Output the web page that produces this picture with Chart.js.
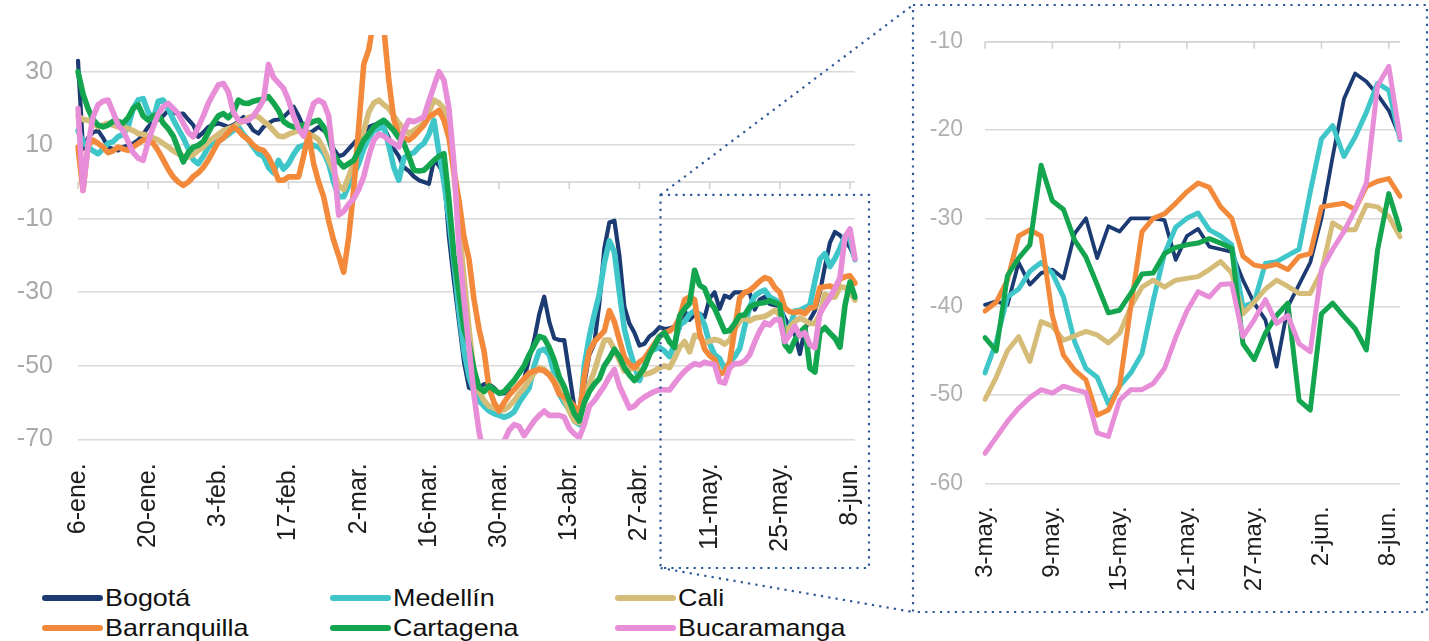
<!DOCTYPE html>
<html>
<head>
<meta charset="utf-8">
<script src="https://cdn.jsdelivr.net/npm/chart.js@4.4.1/dist/chart.umd.min.js"></script>
<style>
  body { margin: 0; background: #fff; font-family: "Liberation Sans", Arial, sans-serif; }
  #page { position: relative; width: 1429px; height: 641px; overflow: hidden; background: #fff; }
  #main-wrap { position: absolute; left: 0; top: 0; width: 880px; height: 560px; }
  #zoom-wrap { position: absolute; left: 915px; top: 10px; width: 500px; height: 600px; }
  #frames { position: absolute; left: 0; top: 0; pointer-events: none; }
  #legend { position: absolute; left: 42px; top: 586px; display: grid;
            grid-template-columns: 288px 285px 300px; row-gap: 6px; }
  .item { display: flex; align-items: center; height: 24px; }
  .swatch { width: 61px; height: 6px; border-radius: 3px; margin-right: 2px; }
  .name { display: inline-block; font-size: 24px; line-height: 24px; color: #111;
          transform: scaleX(1.12); transform-origin: left center; white-space: nowrap; }
</style>
</head>
<body>
<div id="page">
  <div id="main-wrap"><canvas id="main-chart"></canvas></div>
  <div id="zoom-wrap"><canvas id="zoom-chart"></canvas></div>
  <div id="legend"></div>
  <canvas id="frames" width="1429" height="641"></canvas>
</div>
<script>
// daily values, 6-ene. to 9-jun.
const bogota = [
  33, 9, 12, 13.5, 14, 12, 9.5, 9, 8.6, 9.5,
  10, 10.5, 11.4, 13, 15, 16.5, 17, 18, 19.5, 19,
  18.5, 18.6, 17, 15.5, 12.3, 13.5, 15, 15.5, 16, 15.5,
  15, 15.5, 16.5, 17.7, 16, 14, 13.2, 15, 16, 16.8,
  17, 17.7, 19, 20.5, 18, 15, 13.2, 14, 15, 14,
  13, 9, 7, 7.5, 9, 10.5, 12, 13.5, 15, 15.5,
  16, 15, 12, 9, 7, 4, 3, 1.5, 0.5, 0,
  -0.5, 5.9, 4.5, 2, -15, -27, -38, -49, -56, -56.5,
  -56, -55, -55, -56, -57.5, -57.5, -57, -56.5, -55, -53.5,
  -48, -43, -36, -31.2, -38, -42.5, -43, -43, -52, -61,
  -65, -55, -47, -44, -33, -18, -11, -10.5, -20, -34,
  -38.5, -41, -44.5, -44, -42, -41, -39.5, -40,
  -39.8, -39.4, -39.8, -35, -37.5, -36.2, -35.8, -36.8, -31.7, -30,
  -34.5, -30.9, -31.5, -30, -30, -30, -30.2, -34.7, -32, -31.2,
  -33.2, -33.5, -33.8, -37, -39.6, -41.5, -46.8, -40, -37.5, -35,
  -30, -23, -16.5, -13.6, -14.5, -16, -17.8, -20.8
];
const medellin = [
  14, 11, 9.5, 8.5, 7.7, 9, 10.5, 11, 12.3, 13,
  15, 20, 22.3, 22.7, 19, 17, 22, 22.3, 20, 17,
  14.5, 12, 9, 6, 5, 7, 9.5, 10.5, 11, 12,
  13, 14, 15, 13, 11.4, 9.5, 7.7, 7, 4, 2.5,
  5.9, 3.5, 5, 7.5, 9.5, 10, 10.5, 10, 9.5, 8,
  5, 0, -4, -4, -1, 2, 5, 9, 12, 14,
  14.5, 15, 10, 4, 0.5, 6.5, 7.5, 8, 9.5, 10.5,
  13, 16.8, 8, 0, -10, -22, -35, -46, -53, -57,
  -59.5, -61, -62.3, -63, -63.5, -64, -63.5, -62.5, -60, -58,
  -56, -50, -46, -45.5, -47, -52, -57.7, -60, -62, -65,
  -66, -50, -42, -36, -30.5, -22, -16, -19, -30, -40,
  -45.5, -50, -54, -50, -46, -45.5, -45, -46,
  -47.5, -44, -38.9, -38, -36, -35, -36.2, -38.9, -44, -47,
  -48, -51, -49, -47.5, -45.3, -39.3, -34, -31, -30, -29.4,
  -31.3, -32, -33, -40, -39.5, -35.1, -34.9, -34.2, -33.5, -27,
  -21, -19.5, -23, -20.8, -18, -14.7, -15.5, -21.1
];
const cali = [
  18, 17, 16.8, 16, 15, 15.5, 16, 15.5, 15, 15,
  14.5, 14, 13.2, 13, 12.5, 12, 11.4, 10.5, 9.5, 8.5,
  7.7, 7, 6.8, 7.5, 8.6, 9.5, 11, 12, 13, 14,
  14.5, 15, 16, 16.5, 17.5, 18, 17.7, 16.5, 15.5, 14,
  12.5, 12.3, 13, 13.5, 14, 13.5, 13, 12.5, 11.5, 9,
  6, 3, -1, -2, 1.5, 5, 9, 14, 19, 21.5,
  22.3, 21, 20, 18, 16, 14.5, 13.2, 14, 15, 16,
  19, 22.3, 21.5, 20, 14, 2, -12, -26, -40, -52,
  -57, -59.5, -61, -61.5, -62, -62, -61, -59.5, -57.5, -56,
  -54, -52, -50.5, -51, -52.3, -54, -56, -59, -62.3, -65,
  -65.5, -59, -55, -51.5, -47, -43, -43, -45.5, -48.5, -51.4,
  -51, -50.5, -51, -52.3, -52, -51.4, -50.5, -50,
  -50.5, -48, -45, -43.4, -46.2, -41.7, -42.2, -43.8, -43.3, -42.8,
  -43.2, -44.1, -43, -40, -37.8, -37, -37.8, -37, -36.8, -36.6,
  -35.8, -34.9, -36.2, -40.8, -39.5, -38, -37, -37.7, -38.5, -38.5,
  -36, -30.5, -31.3, -31.3, -28.5, -28.7, -29.8, -32.1
];
const barranquilla = [
  9.5, -2.3, 10, 11.4, 10.5, 9.5, 8, 8.5, 9.5, 9,
  8.6, 9.5, 10.5, 11.4, 11.4, 10.5, 8.5, 6, 3.5, 1.4,
  0, -0.9, 0, 1.5, 2.5, 4, 6, 8.5, 11, 12,
  13.5, 15, 14, 12.5, 11.5, 10, 9, 8.6, 6.8, 4,
  0.5, 0.5, 1.4, 1.4, 1.4, 7, 13.2, 5, 0, -4,
  -10.5, -15.9, -20, -24.5, -15, -2, 15, 32, 36, 44,
  45, 42, 27.7, 17, 13, 12, 11.4, 12.5, 14, 15.5,
  17.7, 18.5, 19.5, 16.8, 12, 3, -5, -15, -21, -32,
  -40, -46, -56, -60, -62.3, -60, -58, -56.5, -55, -53.5,
  -52, -51.4, -51, -51.4, -52.5, -54.5, -57.7, -58.5, -59.5, -61,
  -63.2, -53, -46, -43.5, -42, -40.5, -35, -38, -43, -47.7,
  -49.5, -50.5, -49, -48, -46, -44, -42, -41,
  -40.5, -39.5, -37, -32, -31.3, -32, -41, -45.5, -47.2, -48.3,
  -52.3, -51.7, -49, -40, -31.5, -30, -29.5, -28.3, -27, -26,
  -26.5, -28.7, -30, -34.3, -35.3, -35.5, -35.2, -35.8, -34.3, -34,
  -28.7, -28.5, -28.3, -29, -26.4, -25.8, -25.5, -27.5
];
const cartagena = [
  30, 24, 20, 17, 15.5, 15, 15.5, 16.5, 16.5, 16,
  17.5, 20, 21, 18, 16.8, 18, 18.5, 16, 14.5, 12.5,
  9, 5.5, 8, 9.5, 10, 11, 13.5, 16, 18, 18.6,
  17.5, 19, 22.3, 21.5, 21.4, 22, 22.3, 22.5, 23.2, 21.5,
  19.5, 16.5, 15.5, 15, 15.2, 15.5, 15.9, 16.5, 16.8, 15,
  12, 7.5, 5.5, 4.1, 5, 5.9, 8.5, 11.4, 13, 15,
  16, 16.8, 15.5, 14, 12, 10.5, 7, 3.2, 3, 3.2,
  4.5, 5.9, 7, 7.7, -5, -20, -30, -40, -44, -51,
  -56, -57, -55.5, -56.5, -57.5, -57, -55.5, -54, -52, -50,
  -47, -44.5, -42, -42.5, -45, -48.5, -53, -55.7, -59.5, -63,
  -65, -60, -57, -55, -53.5, -50, -48, -45.5, -47.5, -50.5,
  -52.5, -54, -52.5, -50.5, -47, -44.5, -42, -41,
  -43.5, -45, -36.5, -34.5, -33, -24, -28, -29, -32.5, -34.4,
  -37.5, -40.7, -40.4, -38.5, -36.3, -36.2, -34, -33.3, -33, -32.8,
  -32.3, -32.8, -33.4, -44.2, -46, -43, -41, -39.6, -50.6, -51.7,
  -40.8, -39.6, -41.1, -42.5, -44.9, -33.6, -27.2, -31.3
];
const bucaramanga = [
  20, -2.3, 10, 17.7, 21, 22, 22.3, 19, 15.5, 14,
  11, 8, 6.5, 5.9, 11, 15, 18.5, 20.5, 21.4, 20,
  18.6, 16, 13.5, 12.3, 15, 18, 21.4, 24, 26.4, 26.8,
  24.5, 19, 16.8, 16.5, 16.8, 18, 20, 22.3, 32, 28.5,
  27, 25.5, 22.3, 18, 14.5, 12.5, 17, 21.4, 22.3, 21.5,
  18, 6, -9, -8, -6, -4.5, -2, 1.5, 7, 11.4,
  13, 12.5, 11.4, 10.5, 9.5, 14, 16.8, 16.4, 17, 17.7,
  22, 26, 30, 27.7, 20, 5, -18, -32, -45, -58,
  -68, -74, -75, -73, -72, -70.5, -67.5, -66, -66.5, -69,
  -67, -65, -63.5, -62.3, -63.5, -63.5, -63.5, -64, -67, -68.5,
  -69.5, -66, -61, -59.5, -57.5, -55.5, -53, -51, -55.5, -58.5,
  -61.5, -61, -59.5, -58.5, -57.7, -57, -56.5, -56.5,
  -56.6, -54.8, -53, -51.5, -50.3, -49.4, -49.8, -49, -49.4, -49.7,
  -54.3, -54.7, -50.6, -49.4, -49.4, -48.7, -47, -43.5, -40.5, -38.3,
  -38.9, -37.5, -37.4, -43.4, -41.5, -39.2, -41.9, -41, -44.2, -45.1,
  -35.8, -33.5, -31.5, -29, -26, -15, -12.8, -20.9
];

const cityNames = ["Bogotá", "Medellín", "Cali", "Barranquilla", "Cartagena", "Bucaramanga"];
const cityColors = ["#1c3b73", "#3fc6c9", "#d6bc79", "#f38a3b", "#14a54f", "#e88ed8"];
const cityValues = [bogota, medellin, cali, barranquilla, cartagena, bucaramanga];

const monthNames = ["ene.", "feb.", "mar.", "abr.", "may.", "jun."];
const monthDays = [31, 29, 31, 30, 31, 30];
const leftTicks = [-70, -50, -30, -10, 10, 30];
const rightTicks = [-60, -50, -40, -30, -20, -10];
const zoomStart = 118; // 3-may.

// day labels like "6-ene."
const dayLabels = [];
let mon = 0, day = 6;
while (dayLabels.length < bogota.length) {
  dayLabels.push(day + "-" + monthNames[mon]);
  day++;
  if (day > monthDays[mon]) { day = 1; mon++; }
}

Chart.defaults.font.family = '"Liberation Sans", Arial, sans-serif';

// axis line crossing the plot, with small ticks under it
const crossAxis = {
  id: "crossAxis",
  beforeDatasetsDraw(chart, args, opts) {
    const { ctx, chartArea, scales } = chart;
    const y = scales.y.getPixelForValue(opts.value);
    ctx.save();
    ctx.strokeStyle = "#d2d2d2";
    ctx.lineWidth = 1.6;
    ctx.beginPath();
    ctx.moveTo(chartArea.left, y);
    ctx.lineTo(chartArea.right, y);
    for (let i = 0; i < chart.data.labels.length; i += opts.every) {
      const x = scales.x.getPixelForValue(i);
      ctx.moveTo(x, y);
      ctx.lineTo(x, y + 7);
    }
    ctx.stroke();
    ctx.restore();
  }
};

function makeSets(from, thin, thick) {
  return cityNames.map((name, k) => ({
    label: name,
    data: cityValues[k].slice(from),
    borderColor: cityColors[k],
    borderWidth: k === 0 ? thin : thick,
    pointRadius: 0,
    tension: 0,
    borderJoinStyle: "round",
    borderCapStyle: "round",
    order: cityNames.length - k
  }));
}

// fixed axis sizes, no extra label padding
function fitX(h) {
  return s => { s.height = h; s.paddingLeft = 0; s.paddingRight = 0; };
}
function fitY(w) {
  return s => { s.width = w; s.paddingTop = 0; s.paddingBottom = 0; };
}

const mainChart = new Chart(document.getElementById("main-chart"), {
  type: "line",
  data: { labels: dayLabels, datasets: makeSets(0, 4.2, 5.6) },
  options: {
    responsive: true,
    maintainAspectRatio: false,
    animation: false,
    layout: { padding: { top: 35, right: 25, left: 0, bottom: 0 } },
    plugins: { legend: { display: false }, tooltip: { enabled: false }, crossAxis: { value: 0, every: 14 } },
    scales: {
      x: {
        grid: { display: false },
        border: { display: false },
        ticks: {
          autoSkip: false, minRotation: 90, maxRotation: 90, padding: 16,
          color: "#1e1e1e", font: { size: 25 },
          callback: (v, i) => (i % 14 === 0 ? dayLabels[i] : null)
        },
        afterFit: fitX(120.7)
      },
      y: {
        min: -70, max: 40,
        afterBuildTicks: s => { s.ticks = leftTicks.map(v => ({ value: v })); },
        grid: { color: "#dadada", lineWidth: 1.6, drawTicks: false },
        border: { display: false },
        ticks: { color: "#a9a9a9", font: { size: 25 }, padding: 25 },
        afterFit: fitY(78)
      }
    }
  },
  plugins: [crossAxis]
});

const zoomLabels = dayLabels.slice(zoomStart);
const zoomChart = new Chart(document.getElementById("zoom-chart"), {
  type: "line",
  data: { labels: zoomLabels, datasets: makeSets(zoomStart, 3.8, 5) },
  options: {
    responsive: true,
    maintainAspectRatio: false,
    animation: false,
    layout: { padding: { top: 31.7, right: 15, left: 0, bottom: 0 } },
    plugins: { legend: { display: false }, tooltip: { enabled: false }, crossAxis: { value: -10, every: 6 } },
    scales: {
      x: {
        grid: { display: false },
        border: { display: false },
        ticks: {
          autoSkip: false, minRotation: 90, maxRotation: 90, padding: 15,
          color: "#1e1e1e", font: { size: 24 },
          callback: (v, i) => (i % 6 === 0 ? zoomLabels[i] : null)
        },
        afterFit: fitX(126.7)
      },
      y: {
        min: -60, max: -10,
        afterBuildTicks: s => { s.ticks = rightTicks.map(v => ({ value: v })); },
        grid: { color: "#dadada", lineWidth: 1.6, drawTicks: false },
        border: { display: false },
        ticks: { color: "#b0b0b0", font: { size: 23 }, padding: 22 },
        afterFit: fitY(70)
      }
    }
  },
  plugins: [crossAxis]
});

// legend in three columns
const legend = document.getElementById("legend");
[0, 1, 2, 3, 4, 5].forEach(k => {
  const item = document.createElement("div");
  item.className = "item";
  item.innerHTML = '<span class="swatch" style="background:' + cityColors[k] + '"></span><span class="name">' + cityNames[k] + "</span>";
  legend.appendChild(item);
});

// dotted frames and connectors
function drawFrames() {
  const g = document.getElementById("frames").getContext("2d");
  const xs = mainChart.scales.x, ys = mainChart.scales.y, area = mainChart.chartArea;
  const lx0 = xs.getPixelForValue(zoomStart) - 9;
  const lx1 = area.right + 14;
  const ly0 = ys.getPixelForValue(-3.5);
  const ly1 = 568;
  const rx0 = 913, ry0 = 5, rx1 = 1427, ry1 = 612;
  g.strokeStyle = "#2c5896";
  g.lineWidth = 2.2;
  g.setLineDash([2.2, 5.2]);
  g.beginPath();
  g.rect(lx0, ly0, lx1 - lx0, ly1 - ly0);
  g.rect(rx0, ry0, rx1 - rx0, ry1 - ry0);
  g.moveTo(lx0, ly0); g.lineTo(rx0, ry0);
  g.moveTo(lx0, ly1); g.lineTo(rx0, ry1);
  g.stroke();
}
drawFrames();
</script>
</body>
</html>
